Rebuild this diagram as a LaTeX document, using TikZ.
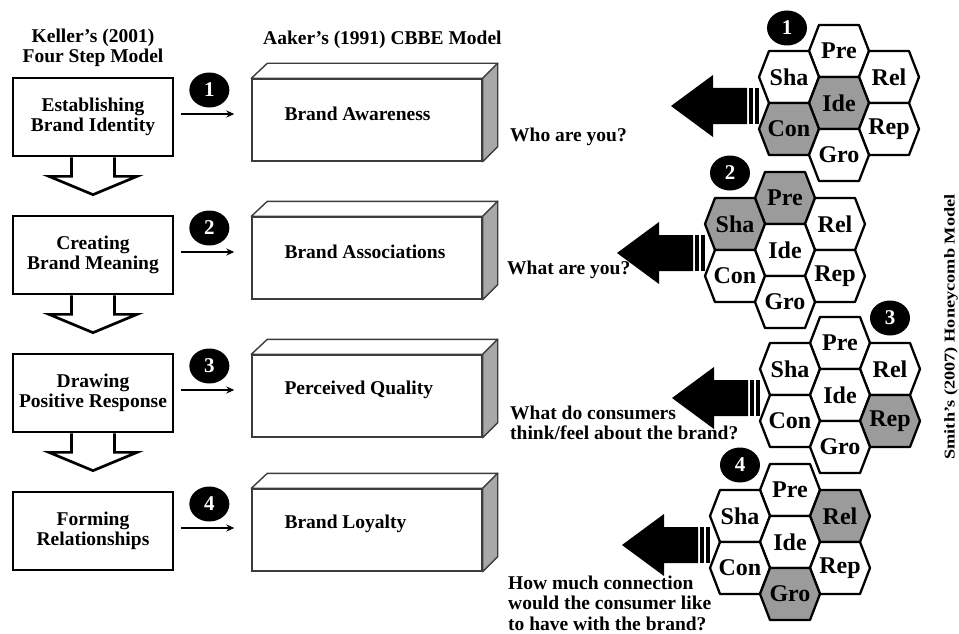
\documentclass[tikz,border=0pt]{standalone}
\usepackage{fontspec}
\setmainfont{Liberation Serif}
\usetikzlibrary{arrows.meta, positioning, calc, shapes.geometric}

\definecolor{hexgray}{RGB}{155,155,155}
\definecolor{sidegray}{RGB}{168,168,168}
\definecolor{edgegray}{RGB}{60,60,60}

% honeycomb of seven cells around the Ide cell at (#2,#3), with its big arrow
\newcommand{\honeycomb}[3]{%
  \coordinate (hc#1) at (#2,#3);
  \foreach \cell/\dx/\dy in {Pre/0/-52, Sha/-50/-26, Rel/50/-26, Ide/0/0, Con/-50/26, Rep/50/26, Gro/0/52}{
    \draw[hexcell, hc#1\cell/.try] ($(hc#1)+(\dx,\dy)+(-30,0)$) -- ++(10,-26) -- ++(40,0)
      -- ++(10,26) -- ++(-10,26) -- ++(-40,0) -- cycle;
    \node[hexlabel] (hc#1-\cell) at ($(hc#1)+(\dx,\dy)$) {\cell};
  }
  \fill ($(hc#1)+(-168,3)$) -- ++(42,-31) -- ++(0,13) -- ++(34,0) -- ++(0,36)
    -- ++(-34,0) -- ++(0,13) -- cycle;
  \fill ($(hc#1)+(-90,-15)$) rectangle ++(4,36);
  \fill ($(hc#1)+(-84,-15)$) rectangle ++(4,36);
}

\tikzset{
  hc1Ide/.style={fill=hexgray}, hc1Con/.style={fill=hexgray},
  hc2Pre/.style={fill=hexgray}, hc2Sha/.style={fill=hexgray},
  hc3Rep/.style={fill=hexgray},
  hc4Rel/.style={fill=hexgray}, hc4Gro/.style={fill=hexgray}
}

\begin{document}
\begin{tikzpicture}[x=1pt, y=-1pt, >=Stealth,
  lbl/.style={font=\bfseries\fontsize{19.5}{20.5}\selectfont, inner sep=0pt},
  keller/.style={lbl, draw, line width=2.7pt, minimum width=160pt, minimum height=78pt, align=center},
  aaker/.style={draw=edgegray, line width=1.4pt, minimum width=230pt, minimum height=82pt},
  boxface/.style={draw=edgegray, line width=1.4pt, line join=round},
  downarrow/.style={draw, fill=white, line width=2.7pt, line join=miter},
  smallarrow/.style={-{Stealth[length=8pt, width=7pt]}, line width=1.7pt, shorten <=7pt, shorten >=17pt},
  num/.style={ellipse, fill=black, text=white, minimum width=40pt, minimum height=35pt, inner sep=0pt,
    font=\bfseries\fontsize{21}{21}\selectfont},
  hexcell/.style={draw, fill=white, line width=2.3pt, line join=round},
  hexlabel/.style={font=\bfseries\fontsize{24}{24}\selectfont, inner sep=0pt},
  question/.style={lbl, anchor=west, align=left}]
  \useasboundingbox (0,0) rectangle (959,634);

  % column headings
  \node[lbl, align=center] (keller) at (93,48) {Keller's (2001)\\Four Step Model};
  \node[lbl, anchor=west] (aakerhead) at (263,40) {Aaker's (1991) CBBE Model};

  % Keller's four steps
  \node[keller] (k1) at (93,117) {Establishing\\Brand Identity};
  \node[keller] (k2) at (93,255) {Creating\\Brand Meaning};
  \node[keller] (k3) at (93,393) {Drawing\\Positive Response};
  \node[keller] (k4) at (93,531) {Forming\\Relationships};

  % hollow arrows between the steps
  \foreach \a/\b in {k1/k2, k2/k3, k3/k4}{
    \draw[downarrow] ($(\a.south)+(-21.5,0)$) -- ++(0,19) -- ++(-22.5,0) -- ($(\b.north)+(0,-20)$)
      -- ($(\a.south)+(44,19)$) -- ++(-22.5,0) -- ++(0,-19);
  }

  % Aaker's boxes, drawn as blocks
  \node[aaker] (a1) at (367,120) {};
  \node[aaker] (a2) at (367,258) {};
  \node[aaker] (a3) at (367,396) {};
  \node[aaker] (a4) at (367,530) {};
  \foreach \a in {a1, a2, a3, a4}{
    \draw[boxface, fill=white] (\a.north west) -- ++(16,-15) -- ($(\a.north east)+(15,-15)$) -- (\a.north east) -- cycle;
    \draw[boxface, fill=sidegray] (\a.north east) -- ++(15,-15) -- ($(\a.south east)+(15,-15)$) -- (\a.south east) -- cycle;
  }
  \node[lbl, anchor=west] (a1-text) at ($(a1.west)+(33,-6)$) {Brand Awareness};
  \node[lbl, anchor=west] (a2-text) at ($(a2.west)+(33,-6)$) {Brand Associations};
  \node[lbl, anchor=west] (a3-text) at ($(a3.west)+(33,-6)$) {Perceived Quality};
  \node[lbl, anchor=west] (a4-text) at ($(a4.west)+(33,-6)$) {Brand Loyalty};

  % numbered links from step to box
  \foreach \i in {1,...,4}{
    \draw[smallarrow] ([yshift=3pt]k\i.east) -- ([yshift=3pt]k\i.east -| a\i.west);
    \node[num] (n\i) at ($(k\i.east)+(35,-27)$) {\i};
  }

  % Smith's honeycombs
  \honeycomb{1}{839}{103}
  \honeycomb{2}{785}{250}
  \honeycomb{3}{840}{395}
  \honeycomb{4}{790}{542}
  \node[num] (h1) at ($(hc1)+(-52,-75)$) {1};
  \node[num] (h2) at ($(hc2)+(-55,-77)$) {2};
  \node[num] (h3) at ($(hc3)+(50,-77)$) {3};
  \node[num] (h4) at ($(hc4)+(-50,-77)$) {4};

  % questions
  \node[question] (q1) at (510,137) {Who are you?};
  \node[question] (q2) at (507,270) {What are you?};
  \node[question] (q3) at (510,423) {What do consumers\\think/feel about the brand?};
  \node[question] (q4) at (508,603) {How much connection\\would the consumer like\\to have with the brand?};

  \node[rotate=90, inner sep=0pt, font=\bfseries\fontsize{15}{15}\selectfont] (smith) at (951,327)
    {\scalebox{1.22}[1]{Smith's (2007) Honeycomb Model}};
\end{tikzpicture}
\end{document}
